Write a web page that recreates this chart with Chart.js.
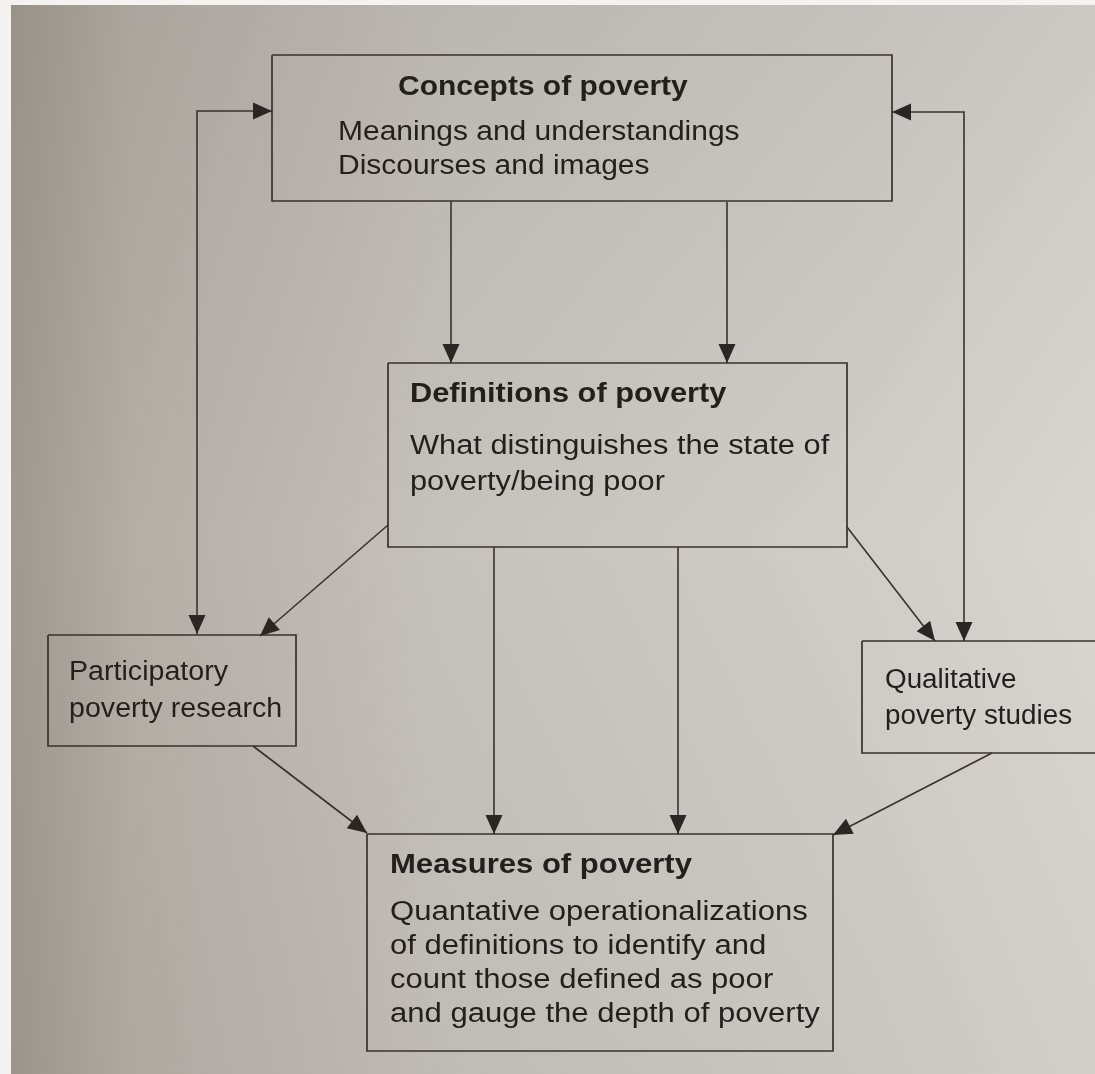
<!DOCTYPE html>
<html>
<head>
<meta charset="utf-8">
<title>Concepts, definitions and measures of poverty</title>
<script src="https://cdn.jsdelivr.net/npm/chart.js@4.4.1/dist/chart.umd.min.js"></script>
<style>
  html, body { margin: 0; padding: 0; background: #c6c2bc; }
  #wrap { width: 1095px; height: 1074px; }
</style>
</head>
<body>
<div id="wrap"><canvas id="diagram" width="1095" height="1074"></canvas></div>
<script>
// Testi dei riquadri
const boxTitles = ['Concepts of poverty', 'Definitions of poverty', '', '', 'Measures of poverty'];
const boxLines = [
    ['Meanings and understandings', 'Discourses and images'],
    ['What distinguishes the state of', 'poverty/being poor'],
    ['Participatory', 'poverty research'],
    ['Qualitative', 'poverty studies'],
    ['Quantative operationalizations', 'of definitions to identify and', 'count those defined as poor', 'and gauge the depth of poverty']
];

// Riquadri (coordinate della pagina, asse y verso il basso)
const boxLeft   = [272, 388, 48, 862, 367];
const boxRight  = [892, 847, 296, 1120, 833];
const boxTop    = [55, 363, 635, 641, 834];
const boxBottom = [201, 547, 746, 753, 1051];

// Frecce: punti x / y, punte alla fine ('end') o a entrambi i capi ('both')
const linkX = [
    [272, 197, 197],
    [892, 964, 964],
    [451, 451],
    [727, 727],
    [388, 260],
    [847, 935],
    [494, 494],
    [678, 678],
    [253, 367],
    [992, 833]
];
const linkY = [
    [111, 111, 634],
    [112, 112, 641],
    [201, 363],
    [202, 363],
    [525, 636],
    [527, 641],
    [547, 834],
    [547, 834],
    [746, 833],
    [753, 835]
];
const linkHeads = ['both', 'both', 'end', 'end', 'end', 'end', 'end', 'end', 'end', 'end'];

// Posizione del testo dentro i riquadri
const titleX = [398, 410, 0, 0, 390];
const textX = [338, 410, 69, 885, 390];
const titleY = [88, 395, 0, 0, 866];
const firstLineY = [133, 447, 673, 681, 913];
const lineGap = [34, 36, 37, 36, 34];
const textStretch = [1.11, 1.14, 1.06, 1.03, 1.15];

const ink = '#37322e';
const textInk = '#221f1c';

let datasets = [];

for (let i in boxLeft) {
    datasets.push({
        data: [
            { x: boxLeft[i], y: boxTop[i] },
            { x: boxRight[i], y: boxTop[i] },
            { x: boxRight[i], y: boxBottom[i] },
            { x: boxLeft[i], y: boxBottom[i] },
            { x: boxLeft[i], y: boxTop[i] }
        ],
        showLine: true,
        borderColor: ink,
        borderWidth: 1.7,
        pointRadius: 0
    });
}

for (let i in linkX) {
    datasets.push({
        data: linkX[i].map((x, k) => ({ x: x, y: linkY[i][k] })),
        showLine: true,
        borderColor: ink,
        borderWidth: 1.6,
        pointRadius: 0
    });
}

// Sfondo carta
const paperPlugin = {
    id: 'paper',
    beforeDraw(chart) {
        const ctx = chart.ctx;
        ctx.save();
        let g = ctx.createLinearGradient(0, 0, 1095, 0);
        g.addColorStop(0, '#9d978e');
        g.addColorStop(0.12, '#b3aea6');
        g.addColorStop(0.4, '#c5c1bb');
        g.addColorStop(0.8, '#d1cdc8');
        g.addColorStop(1, '#d9d6d1');
        ctx.fillStyle = g;
        ctx.fillRect(0, 0, chart.width, chart.height);
        let v = ctx.createLinearGradient(0, 0, 0, 1074);
        v.addColorStop(0, 'rgba(90,85,78,0.10)');
        v.addColorStop(0.5, 'rgba(90,85,78,0)');
        v.addColorStop(1, 'rgba(90,85,78,0.06)');
        ctx.fillStyle = v;
        ctx.fillRect(0, 0, chart.width, chart.height);
        ctx.fillStyle = '#f4f3f0';
        ctx.fillRect(0, 0, 11, chart.height);
        ctx.fillRect(0, 0, chart.width, 5);
        ctx.restore();
    }
};

// Punte delle frecce e testi
const labelsPlugin = {
    id: 'labels',
    afterDatasetsDraw(chart) {
        const ctx = chart.ctx;
        const sx = chart.scales.x;
        const sy = chart.scales.y;

        function head(x1, y1, x2, y2) {
            let px1 = sx.getPixelForValue(x1), py1 = sy.getPixelForValue(y1);
            let px2 = sx.getPixelForValue(x2), py2 = sy.getPixelForValue(y2);
            let a = Math.atan2(py2 - py1, px2 - px1);
            let len = 19, half = 8.5;
            ctx.beginPath();
            ctx.moveTo(px2, py2);
            ctx.lineTo(px2 - len * Math.cos(a) + half * Math.sin(a), py2 - len * Math.sin(a) - half * Math.cos(a));
            ctx.lineTo(px2 - len * Math.cos(a) - half * Math.sin(a), py2 - len * Math.sin(a) + half * Math.cos(a));
            ctx.closePath();
            ctx.fill();
        }

        ctx.save();
        ctx.fillStyle = '#2a2623';
        for (let i in linkX) {
            let n = linkX[i].length;
            head(linkX[i][n - 2], linkY[i][n - 2], linkX[i][n - 1], linkY[i][n - 1]);
            if (linkHeads[i] == 'both') {
                head(linkX[i][1], linkY[i][1], linkX[i][0], linkY[i][0]);
            }
        }

        ctx.fillStyle = textInk;
        ctx.textBaseline = 'middle';
        ctx.textAlign = 'left';

        function write(text, x, y, bold, stretch) {
            ctx.save();
            ctx.translate(sx.getPixelForValue(x), sy.getPixelForValue(y));
            ctx.scale(stretch, 1);
            ctx.font = (bold ? 'bold ' : '') + '27px "Liberation Sans", Arial, sans-serif';
            ctx.fillText(text, 0, 0);
            ctx.restore();
        }

        for (let i in boxTitles) {
            if (boxTitles[i]) {
                write(boxTitles[i], titleX[i], titleY[i], true, textStretch[i]);
            }
            boxLines[i].forEach((t, k) => {
                write(t, textX[i], firstLineY[i] + k * lineGap[i], false, textStretch[i]);
            });
        }
        ctx.restore();
    }
};

const chart = new Chart(document.getElementById('diagram'), {
    type: 'scatter',
    data: { datasets: datasets },
    options: {
        responsive: false,
        animation: false,
        devicePixelRatio: 1,
        layout: { padding: 0 },
        scales: {
            x: { type: 'linear', min: 0, max: 1095, display: false },
            y: { type: 'linear', min: 0, max: 1074, reverse: true, display: false }
        },
        plugins: {
            legend: { display: false },
            tooltip: { enabled: false }
        }
    },
    plugins: [paperPlugin, labelsPlugin]
});
</script>
</body>
</html>
